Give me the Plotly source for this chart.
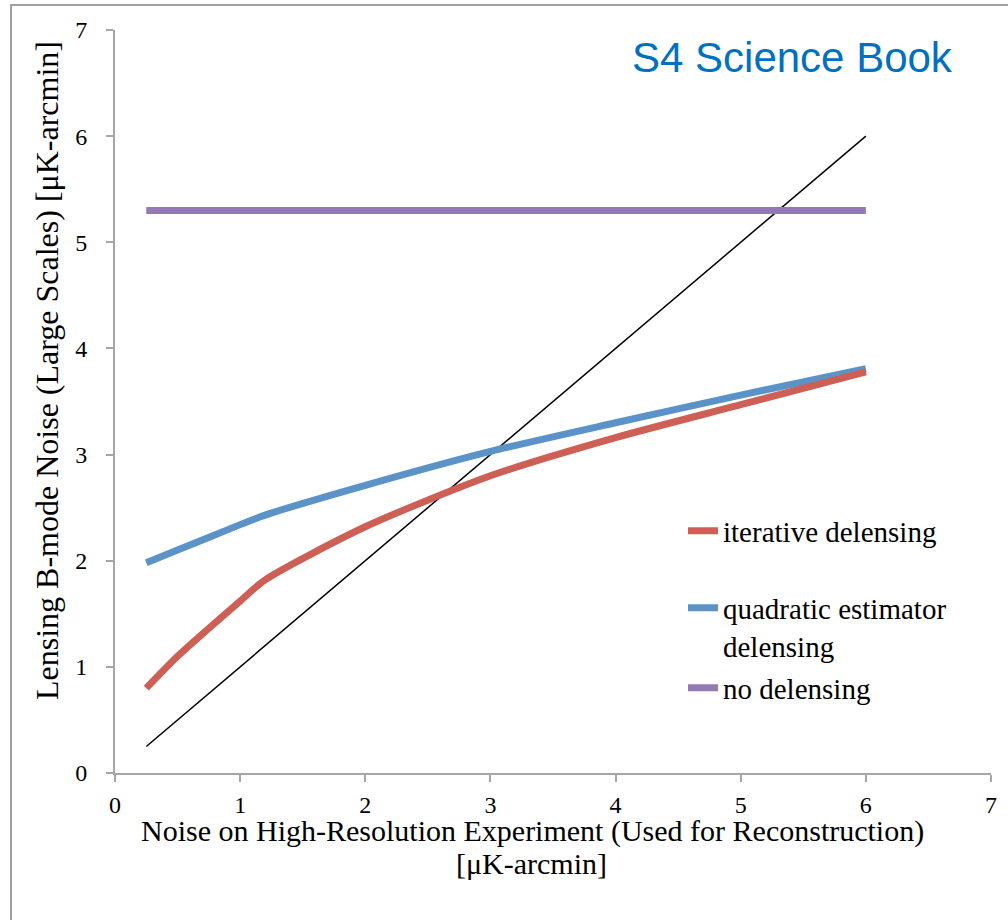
import plotly.graph_objects as go

# Noise on the high-resolution experiment [uK-arcmin]
noise_hr = [0.25, 0.5, 1.0, 1.2, 2.0, 3.0, 4.0, 5.0, 6.0]
# Residual lensing B-mode noise for each delensing method
iterative = [0.80, 1.10, 1.62, 1.82, 2.32, 2.80, 3.16, 3.47, 3.78]
quadratic = [1.98, 2.10, 2.34, 2.43, 2.71, 3.03, 3.30, 3.56, 3.81]
no_delens = [5.30, 5.30, 5.30, 5.30, 5.30, 5.30, 5.30, 5.30, 5.30]
# one-to-one reference line
ref_x = [0.25, 6.0]
ref_y = [0.25, 6.0]

tick_vals = [0, 1, 2, 3, 4, 5, 6, 7]

W, H = 1008, 920
L, R, T, B = 115, 17, 30, 147
PW, PH = W - L - R, H - T - B


def px_x(p):
    return (p - L) / PW


def px_y(p):
    return (H - B - p) / PH


SERIF = "Liberation Serif"
RED = "#CD5F55"
BLUE = "#5B93C9"
PURPLE = "#9579B3"

fig = go.Figure()
fig.add_trace(go.Scatter(x=ref_x, y=ref_y, mode="lines",
                         line=dict(color="black", width=1.5),
                         showlegend=False, hoverinfo="skip"))
fig.add_trace(go.Scatter(x=noise_hr, y=no_delens, mode="lines",
                         line=dict(color=PURPLE, width=7),
                         name="no delensing", legend="legend3"))
fig.add_trace(go.Scatter(x=noise_hr, y=quadratic, mode="lines",
                         line=dict(color=BLUE, width=7, shape="spline", smoothing=0.7),
                         name="quadratic estimator<br>delensing", legend="legend2"))
fig.add_trace(go.Scatter(x=noise_hr, y=iterative, mode="lines",
                         line=dict(color=RED, width=7, shape="spline", smoothing=0.7),
                         name="iterative delensing", legend="legend"))

axis_common = dict(range=[0, 7], tickvals=tick_vals, showgrid=False, zeroline=False,
                   showline=True, linecolor="#A6A6A6", linewidth=2,
                   ticks="outside", ticklen=7, tickwidth=2, tickcolor="#A6A6A6",
                   tickfont=dict(family=SERIF, size=24, color="black"))

leg_font = dict(family=SERIF, size=29, color="black")
leg_common = dict(font=leg_font, bgcolor="rgba(0,0,0,0)", xanchor="left",
                  yanchor="middle", valign="top", itemwidth=30)

fig.update_layout(
    width=W, height=H,
    margin=dict(l=L, r=R, t=T, b=B),
    font=dict(family=SERIF, color="black"),
    paper_bgcolor="white", plot_bgcolor="white",
    xaxis=dict(**axis_common, ticklabelstandoff=2),
    yaxis=dict(**axis_common, ticklabelstandoff=14),
    legend=dict(**leg_common, x=px_x(683), y=px_y(531)),
    legend2=dict(**leg_common, x=px_x(683), y=px_y(627)),
    legend3=dict(**leg_common, x=px_x(683), y=px_y(688)),
    shapes=[dict(type="rect", xref="paper", yref="paper",
                 x0=px_x(11), x1=px_x(1030), y0=px_y(950), y1=px_y(5),
                 line=dict(color="#A0A0A0", width=2), layer="below")],
    annotations=[
        dict(text="S4 Science Book", xref="paper", yref="paper",
             x=px_x(955), y=px_y(58), xanchor="right", yanchor="middle",
             showarrow=False,
             font=dict(family="Liberation Sans", size=42, color="#0070C0")),
        dict(text="Noise on High-Resolution Experiment (Used for Reconstruction)",
             xref="paper", yref="paper", x=px_x(532), y=px_y(831),
             xanchor="center", yanchor="middle", showarrow=False,
             font=dict(family=SERIF, size=30, color="black")),
        dict(text="[μK-arcmin]",
             xref="paper", yref="paper", x=px_x(531), y=px_y(863),
             xanchor="center", yanchor="middle", showarrow=False,
             font=dict(family=SERIF, size=30, color="black")),
        dict(text="Lensing B-mode Noise (Large Scales) [μK-arcmin]",
             xref="paper", yref="paper", x=px_x(47), y=px_y(371),
             xanchor="center", yanchor="middle", textangle=-90, showarrow=False,
             font=dict(family=SERIF, size=32, color="black")),
    ],
)

fig.write_html("out.html")
